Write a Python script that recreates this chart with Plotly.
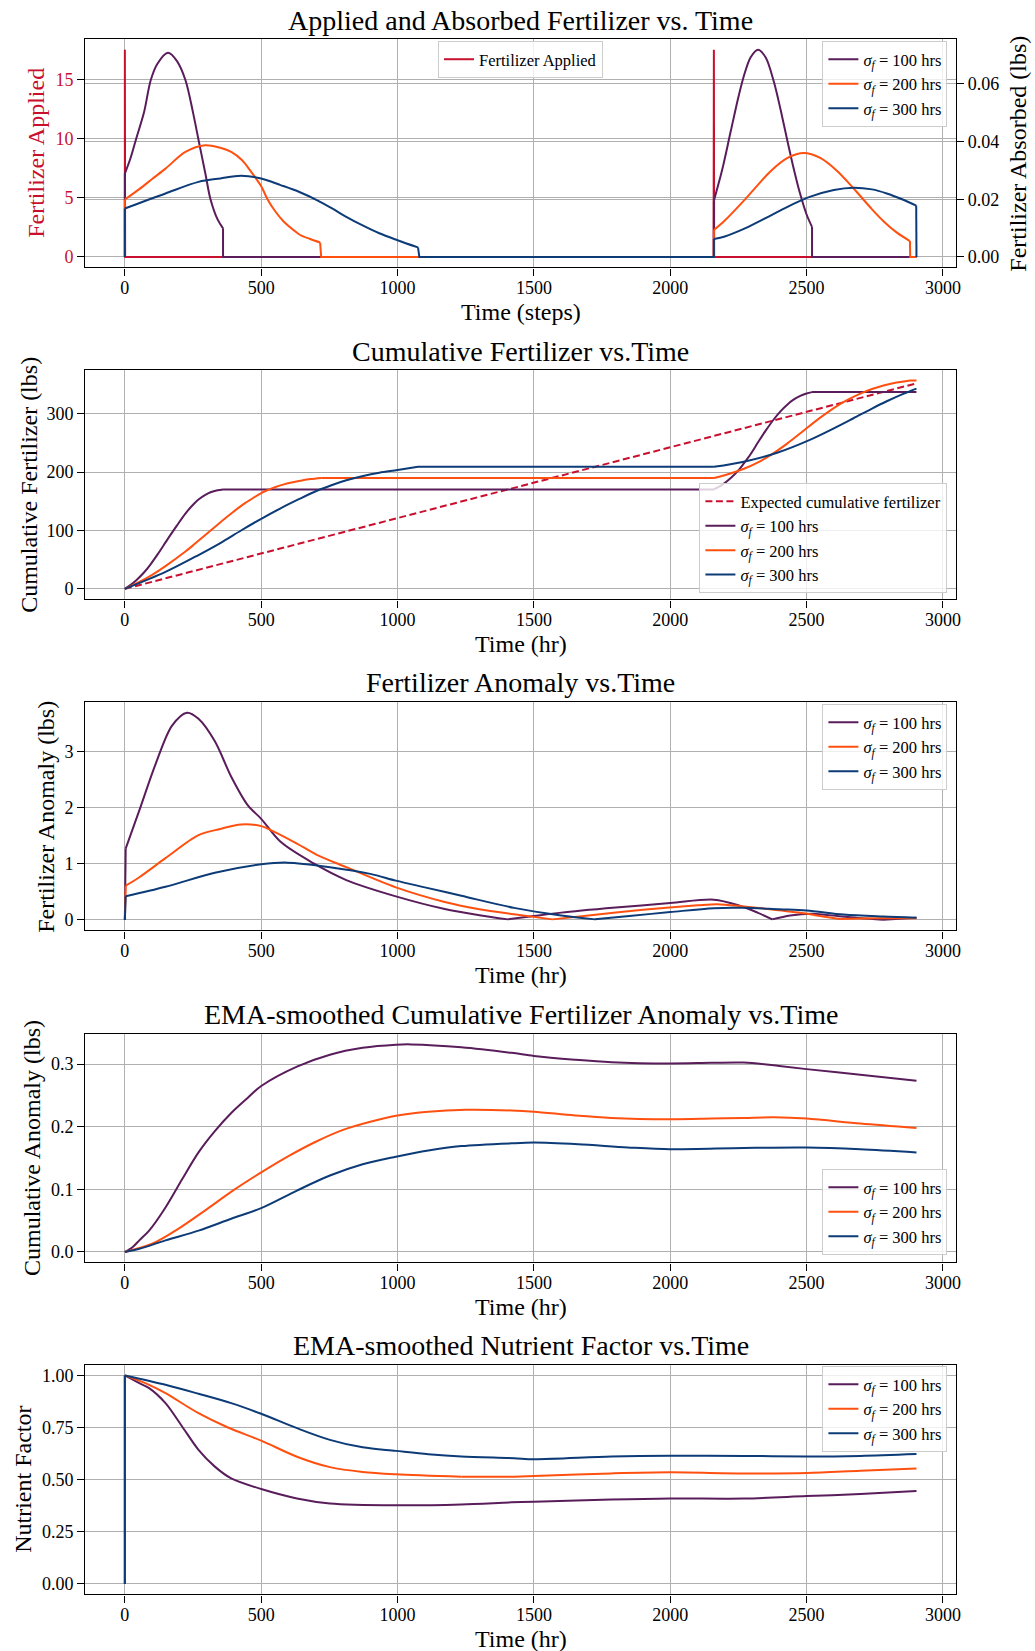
import plotly.graph_objects as go

W, H = 1035, 1651
FONT = "Liberation Serif"
C100 = "#5a1d5b"
C200 = "#ff5010"
C300 = "#0c3b77"
CRED = "#c8102e"

# ---------------- data ----------------
# Panel 1: fertilizer applied (left axis) and absorbed (right axis)
applied_t = [0, 0, 1, 2159, 2160, 2161, 2903]
applied = [0, 17.5, 0, 0, 17.5, 0, 0]

abs100_t = [0, 0, 20, 41, 70, 95, 120, 158, 190, 222, 250, 270, 295, 314, 340, 360, 360,
            2160, 2160, 2190, 2222, 2250, 2270, 2295, 2322, 2350, 2380, 2405, 2429, 2452,
            2475, 2500, 2520, 2520, 2903]
abs100 = [0, 0.0289, 0.034, 0.0408, 0.050, 0.0613, 0.067, 0.0707, 0.068, 0.0613, 0.050,
          0.0406, 0.029, 0.020, 0.013, 0.0099, 0, 0, 0.0195, 0.030, 0.0436, 0.0554, 0.0627,
          0.0692, 0.0718, 0.0691, 0.0607, 0.0509, 0.0405, 0.0309, 0.0223, 0.0147, 0.0104, 0, 0]

abs200_t = [0, 0, 53, 100, 149, 222, 294, 350, 390, 430, 463, 500, 523, 550, 583, 620, 643,
            680, 716, 720, 2160, 2160, 2200, 2270, 2320, 2368, 2430, 2490, 2550, 2611, 2650,
            2697, 2740, 2782, 2830, 2879, 2880, 2903]
abs200 = [0, 0.0199, 0.0235, 0.027, 0.0306, 0.0364, 0.0387, 0.0378, 0.0364, 0.0335, 0.0295,
          0.0245, 0.020, 0.016, 0.0122, 0.0092, 0.0076, 0.0062, 0.005, 0, 0, 0.0093, 0.0126,
          0.0195, 0.0248, 0.0297, 0.0343, 0.036, 0.0343, 0.0299, 0.0261, 0.0211, 0.0165,
          0.0124, 0.0085, 0.0055, 0, 0]

abs300_t = [0, 0, 149, 270, 350, 426, 500, 571, 640, 704, 760, 812, 870, 933, 1000, 1075,
            1080, 2160, 2160, 2200, 2270, 2330, 2392, 2450, 2514, 2600, 2672, 2740, 2794,
            2850, 2902, 2903]
abs300 = [0, 0.0168, 0.022, 0.026, 0.0272, 0.0281, 0.0272, 0.0249, 0.0225, 0.0197, 0.0168,
          0.0139, 0.011, 0.0082, 0.0058, 0.0033, 0, 0, 0.0062, 0.0071, 0.0097, 0.0125,
          0.0155, 0.0183, 0.0209, 0.0232, 0.024, 0.0234, 0.0220, 0.0200, 0.0178, 0]

# Panel 2: cumulative fertilizer
exp_t = [0, 2903]
exp_cum = [0, 352]

cum100_t = [0, 20, 41, 70, 95, 120, 158, 190, 222, 250, 270, 295, 314, 340, 360, 2160, 2190,
            2222, 2250, 2270, 2295, 2322, 2350, 2380, 2405, 2429, 2452, 2475, 2500, 2520, 2903]
cum100 = [0, 6.5, 14.5, 28, 42.5, 59, 86, 108, 129, 144, 153, 161, 165.5, 169, 170.3, 170.3,
          178, 190, 203, 215, 231, 251, 271, 290.5, 304.5, 315.5, 324, 330, 334.5, 337, 337]

cum200_t = [0, 53, 100, 149, 222, 250, 294, 340, 390, 430, 463, 500, 523, 550, 583, 616, 643,
            680, 720, 2160, 2200, 2270, 2320, 2368, 2430, 2490, 2550, 2611, 2650, 2697, 2740,
            2782, 2830, 2879, 2903]
cum200 = [0, 12, 24, 39, 64, 74.5, 92, 110, 129, 143.5, 153.5, 164, 169, 174, 179, 182.5, 185,
          188, 190, 190, 194.6, 205.7, 216.3, 229.1, 249.2, 271.3, 293.3, 313.1, 323.6, 334.4,
          342.4, 348.4, 353.4, 357, 357]

cum300_t = [0, 149, 270, 350, 426, 500, 571, 640, 704, 760, 812, 870, 933, 1000, 1075, 2160,
            2270, 2392, 2514, 2600, 2672, 2740, 2794, 2850, 2903]
cum300 = [0, 29, 58, 78.5, 100, 120, 138, 154, 168, 178, 186, 193, 199, 203.5, 209, 209,
          217.8, 233.1, 255.6, 274.9, 292.2, 308.8, 321.3, 333.1, 343]

# Panel 3: fertilizer anomaly
anom100_t = [0, 3, 53, 113, 173, 228, 270, 330, 390, 451, 500, 571, 691, 812, 994, 1173, 1300,
             1405, 1500, 1600, 1800, 2000, 2160, 2250, 2320, 2374, 2440, 2520, 2620, 2700,
             2780, 2903]
anom100 = [0, 1.27, 1.95, 2.78, 3.46, 3.69, 3.58, 3.18, 2.55, 2.04, 1.80, 1.39, 1.01, 0.71,
           0.42, 0.195, 0.085, 0.01, 0.07, 0.13, 0.22, 0.30, 0.36, 0.26, 0.13, 0.01, 0.08,
           0.11, 0.065, 0.03, 0.005, 0.04]

anom200_t = [0, 3, 53, 149, 270, 350, 426, 500, 535, 631, 704, 812, 994, 1173, 1300, 1427,
             1568, 1700, 1900, 2100, 2173, 2270, 2350, 2490, 2560, 2623, 2750, 2903]
anom200 = [0, 0.61, 0.76, 1.10, 1.51, 1.62, 1.70, 1.67, 1.60, 1.36, 1.16, 0.94, 0.58, 0.32,
           0.19, 0.10, 0.01, 0.08, 0.18, 0.26, 0.28, 0.24, 0.20, 0.12, 0.06, 0.015, 0.03, 0.03]

anom300_t = [0, 3, 149, 330, 500, 595, 752, 900, 994, 1100, 1234, 1427, 1600, 1724, 1850,
             2000, 2160, 2270, 2400, 2500, 2636, 2780, 2903]
anom300 = [0, 0.42, 0.59, 0.84, 0.99, 1.02, 0.94, 0.82, 0.70, 0.58, 0.43, 0.215, 0.08, 0.01,
           0.07, 0.14, 0.21, 0.215, 0.19, 0.17, 0.095, 0.06, 0.04]

# Panel 4: EMA-smoothed cumulative anomaly
ema100_t = [0, 29, 53, 89, 149, 210, 270, 330, 390, 450, 500, 631, 752, 872, 994, 1050, 1234,
            1418, 1500, 1650, 1784, 2000, 2150, 2270, 2400, 2500, 2697, 2903]
ema100 = [0, 0.008, 0.0185, 0.034, 0.071, 0.116, 0.159, 0.193, 0.222, 0.246, 0.265, 0.296,
          0.315, 0.326, 0.331, 0.3315, 0.327, 0.318, 0.313, 0.307, 0.303, 0.301, 0.302,
          0.3025, 0.297, 0.292, 0.283, 0.2735]

ema200_t = [0, 100, 200, 300, 400, 500, 600, 700, 800, 900, 1000, 1113, 1250, 1418, 1500,
            1650, 1784, 2000, 2150, 2270, 2380, 2500, 2697, 2903]
ema200 = [0, 0.013, 0.038, 0.068, 0.099, 0.127, 0.153, 0.176, 0.195, 0.208, 0.218, 0.224,
          0.227, 0.226, 0.224, 0.218, 0.214, 0.212, 0.213, 0.214, 0.215, 0.213, 0.205, 0.198]

ema300_t = [0, 53, 149, 270, 390, 500, 631, 752, 872, 994, 1113, 1234, 1418, 1500, 1662, 1844,
            2000, 2270, 2500, 2697, 2903]
ema300 = [0, 0.005, 0.0185, 0.034, 0.053, 0.07, 0.098, 0.122, 0.14, 0.152, 0.162, 0.169,
          0.1735, 0.1746, 0.172, 0.167, 0.164, 0.166, 0.1667, 0.164, 0.159]

# Panel 5: EMA-smoothed nutrient factor
nf100_t = [0, 0, 53, 89, 149, 210, 270, 330, 390, 500, 631, 752, 994, 1234, 1418, 1500, 1784,
           2000, 2270, 2500, 2697, 2903]
nf100 = [0, 1.0, 0.963, 0.939, 0.867, 0.755, 0.643, 0.5625, 0.506, 0.455, 0.41, 0.386, 0.377,
         0.381, 0.391, 0.394, 0.405, 0.41, 0.409, 0.421, 0.431, 0.445]

nf200_t = [0, 0, 89, 149, 270, 378, 500, 631, 752, 872, 994, 1234, 1427, 1500, 1784, 2000,
           2270, 2500, 2697, 2903]
nf200 = [0, 1.0, 0.955, 0.915, 0.819, 0.75, 0.687, 0.61, 0.56, 0.537, 0.526, 0.514, 0.514,
         0.518, 0.53, 0.535, 0.53, 0.532, 0.543, 0.554]

nf300_t = [0, 0, 149, 270, 390, 500, 631, 752, 872, 994, 1113, 1234, 1427, 1500, 1784, 2000,
           2270, 2500, 2697, 2903]
nf300 = [0, 1.0, 0.955, 0.912, 0.867, 0.816, 0.747, 0.691, 0.655, 0.638, 0.622, 0.611, 0.603,
         0.598, 0.611, 0.615, 0.614, 0.611, 0.614, 0.623]

sigma_labels = ["<i>σ<sub>f</sub></i> = 100 hrs", "<i>σ<sub>f</sub></i> = 200 hrs",
                "<i>σ<sub>f</sub></i> = 300 hrs"]
x_ticks = [0, 500, 1000, 1500, 2000, 2500, 3000]

# ---------------- layout helpers ----------------
def px_x(x):
    return x / W


def px_y(y):
    return 1 - y / H


FRAMES = [(39.3, 267.3), (370, 599.3), (702.3, 930.3), (1034, 1262.3), (1365, 1594.3)]
XDOM = [px_x(85.7), px_x(960.7)]
XRANGE = [-145.15, 3048.15]

fig = go.Figure()


def split_runs(t, v, kinks):
    """Split a series into runs: jumps and flat stretches straight, the rest smoothed."""
    n = len(t)
    runs = []
    cur, start = None, 0
    for i in range(n - 1):
        straight = (t[i + 1] - t[i]) <= 5 or v[i + 1] == v[i]
        typ = "linear" if straight else "spline"
        if cur is None:
            cur, start = typ, i
        elif typ != cur:
            runs.append((cur, start, i))
            cur, start = typ, i
    runs.append((cur, start, n - 1))
    if not kinks:
        return runs
    out = []
    for typ, s, e in runs:
        if typ != "spline":
            out.append((typ, s, e))
            continue
        b = s
        for j in range(s + 1, e):
            if v[j] < v[j - 1] and v[j] < v[j + 1]:
                out.append((typ, b, j))
                b = j
        out.append((typ, b, e))
    return out


def add_series(t, v, color, name, xa, ya, legend, kinks=False):
    first = True
    for typ, s, e in split_runs(t, v, kinks):
        line = dict(color=color, width=2, shape=typ)
        if typ == "spline":
            line["smoothing"] = 0.9
        fig.add_trace(go.Scatter(x=t[s:e + 1], y=v[s:e + 1], mode="lines", name=name,
                                 xaxis=xa, yaxis=ya, line=line, legend=legend,
                                 showlegend=first))
        first = False


colors = [C100, C200, C300]

# panel 1
fig.add_trace(go.Scatter(x=applied_t, y=applied, mode="lines", name="Fertilizer Applied",
                         xaxis="x", yaxis="y", line=dict(color=CRED, width=2),
                         legend="legend", showlegend=True))
for t, v, c, n in zip([abs100_t, abs200_t, abs300_t], [abs100, abs200, abs300], colors, sigma_labels):
    add_series(t, v, c, n, "x", "y6", "legend2")
# panel 2
fig.add_trace(go.Scatter(x=exp_t, y=exp_cum, mode="lines", name="Expected cumulative fertilizer",
                         xaxis="x2", yaxis="y2", line=dict(color=CRED, width=2, dash="7px,3.5px"),
                         legend="legend3", showlegend=True))
for t, v, c, n in zip([cum100_t, cum200_t, cum300_t], [cum100, cum200, cum300], colors, sigma_labels):
    add_series(t, v, c, n, "x2", "y2", "legend3")
# panel 3
for t, v, c, n in zip([anom100_t, anom200_t, anom300_t], [anom100, anom200, anom300], colors, sigma_labels):
    add_series(t, v, c, n, "x3", "y3", "legend4", kinks=True)
# panel 4
for t, v, c, n in zip([ema100_t, ema200_t, ema300_t], [ema100, ema200, ema300], colors, sigma_labels):
    add_series(t, v, c, n, "x4", "y4", "legend5")
# panel 5
for t, v, c, n in zip([nf100_t, nf200_t, nf300_t], [nf100, nf200, nf300], colors, sigma_labels):
    add_series(t, v, c, n, "x5", "y5", "legend6")

axis_common = dict(showgrid=True, gridcolor="#b0b0b0", gridwidth=1, showline=True,
                   linecolor="black", linewidth=1.4, ticks="outside", ticklen=7,
                   tickcolor="black", tickwidth=1.2, zeroline=False,
                   tickfont=dict(family=FONT, size=18, color="black"))

y_specs = [
    dict(range=[-0.875, 18.375], tickvals=[0, 5, 10, 15]),
    dict(range=[-17.85, 374.85], tickvals=[0, 100, 200, 300]),
    dict(range=[-0.1845, 3.8745], tickvals=[0, 1, 2, 3]),
    dict(range=[-0.01657, 0.3481], tickvals=[0, 0.1, 0.2, 0.3], tickformat=".1f"),
    dict(range=[-0.05, 1.05], tickvals=[0, 0.25, 0.5, 0.75, 1.0], tickformat=".2f"),
]

layout = dict(width=W, height=H, margin=dict(l=0, r=0, t=0, b=0),
              paper_bgcolor="white", plot_bgcolor="white", showlegend=True,
              font=dict(family=FONT, size=18, color="black"))

for i, ((top, bot), ys) in enumerate(zip(FRAMES, y_specs), start=1):
    sfx = "" if i == 1 else str(i)
    xa = dict(axis_common, domain=XDOM, anchor="y" + sfx, range=XRANGE, tickvals=x_ticks,
              mirror=True, ticklabelstandoff=-3)
    ya = dict(axis_common, domain=[px_y(bot), px_y(top)], anchor="x" + sfx, mirror=True, **ys)
    layout["xaxis" + sfx] = xa
    layout["yaxis" + sfx] = ya

layout["yaxis"]["tickfont"] = dict(family=FONT, size=18, color=CRED)
layout["yaxis6"] = dict(axis_common, overlaying="y", anchor="x", side="right",
                        range=[-0.00359, 0.0754], tickvals=[0, 0.02, 0.04, 0.06],
                        tickformat=".2f", showline=True)

leg_common = dict(font=dict(family=FONT, size=16.5, color="black"),
                  bgcolor="rgba(255,255,255,0.8)", bordercolor="#cccccc", borderwidth=1,
                  xref="paper", yref="paper")
layout["legend"] = dict(leg_common, x=px_x(523), y=px_y(41), xanchor="center", yanchor="top")
layout["legend2"] = dict(leg_common, x=px_x(952), y=px_y(41), xanchor="right", yanchor="top")
layout["legend3"] = dict(leg_common, x=px_x(952), y=px_y(593), xanchor="right", yanchor="bottom")
layout["legend4"] = dict(leg_common, x=px_x(952), y=px_y(704), xanchor="right", yanchor="top")
layout["legend5"] = dict(leg_common, x=px_x(952), y=px_y(1255), xanchor="right", yanchor="bottom")
layout["legend6"] = dict(leg_common, x=px_x(952), y=px_y(1366), xanchor="right", yanchor="top")


def ann(text, x, y, size, color="black", angle=0):
    return dict(text=text, x=px_x(x), y=px_y(y), xref="paper", yref="paper", showarrow=False,
                font=dict(family=FONT, size=size, color=color), textangle=angle,
                xanchor="center", yanchor="middle")


titles = ["Applied and Absorbed Fertilizer vs. Time", "Cumulative Fertilizer vs.Time",
          "Fertilizer Anomaly vs.Time", "EMA-smoothed Cumulative Fertilizer Anomaly vs.Time",
          "EMA-smoothed Nutrient Factor vs.Time"]
title_y = [20.2, 351.6, 682.6, 1014.2, 1345.9]
xlab = ["Time (steps)", "Time (hr)", "Time (hr)", "Time (hr)", "Time (hr)"]
ylab = ["Fertilizer Applied", "Cumulative Fertilizer (lbs)", "Fertilizer Anomaly (lbs)",
        "Cumulative Anomaly (lbs)", "Nutrient Factor"]
ylab_x = [36.7, 28.3, 46.7, 32, 22.3]

annotations = []
for i in range(5):
    top, bot = FRAMES[i]
    annotations.append(ann(titles[i], 523.2, title_y[i], 28))
    annotations.append(ann(xlab[i], 523.2, bot + 44.5, 24))
    annotations.append(ann(ylab[i], ylab_x[i], (top + bot) / 2, 24,
                           color=CRED if i == 0 else "black", angle=-90))
annotations.append(ann("Fertilizer Absorbed (lbs)", 1023.3, (FRAMES[0][0] + FRAMES[0][1]) / 2, 24,
                       angle=-90))
layout["annotations"] = annotations

fig.update_layout(**layout)
fig.write_html("out.html")
